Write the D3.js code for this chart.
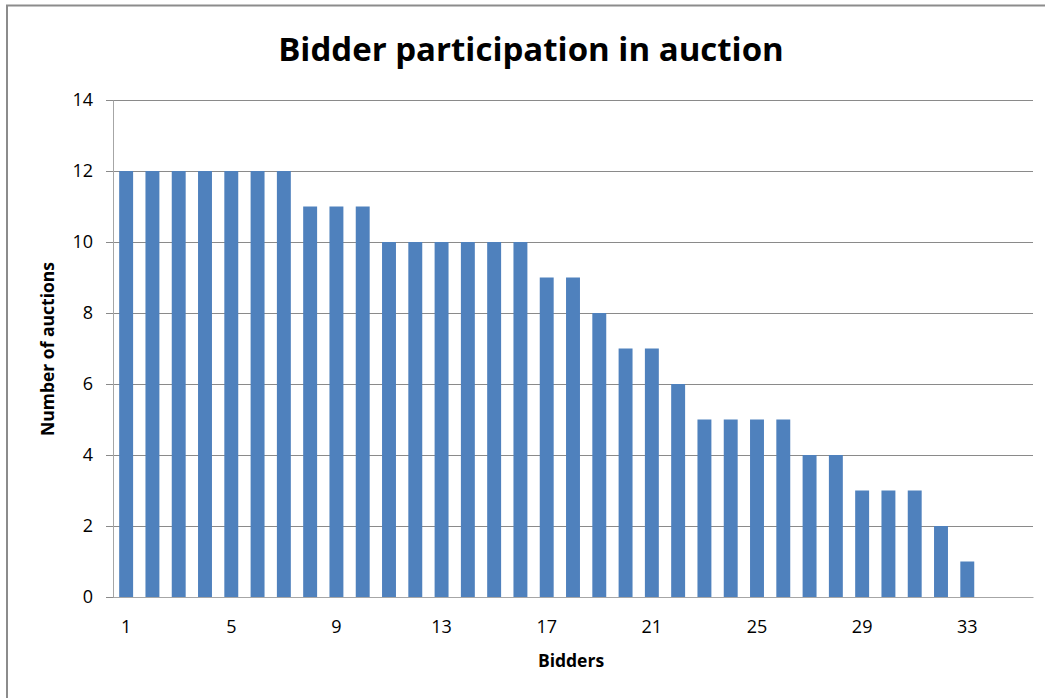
<!DOCTYPE html>
<html>
<head>
<meta charset="utf-8">
<script src="https://cdn.jsdelivr.net/npm/d3@7"></script>
<style>
  body { margin: 0; background: #fff; }
  text { font-family: "Open Sans", "Liberation Sans", sans-serif; fill: #000; }
</style>
</head>
<body>
<div id="chart"></div>
<script>
// bidders 1..35 on the axis, only 33 have bars
var bidders = d3.range(1, 36);
var auctions = [12, 12, 12, 12, 12, 12, 12, 11, 11, 11, 10, 10, 10, 10, 10, 10,
                9, 9, 8, 7, 7, 6, 5, 5, 5, 5, 4, 4, 3, 3, 3, 2, 1];
var yTicks = [0, 2, 4, 6, 8, 10, 12, 14];
var xTickLabels = [1, 5, 9, 13, 17, 21, 25, 29, 33];

var W = 1045, H = 698,
    margin = {top: 100, right: 12, bottom: 101, left: 113},
    width = W - margin.left - margin.right,
    height = H - margin.top - margin.bottom;

var svg = d3.select("#chart").append("svg")
    .attr("width", W).attr("height", H);

// outer chart frame (bottom/right cut off in the screenshot)
svg.append("rect")
    .attr("x", 7).attr("y", 5.5)
    .attr("width", 1060).attr("height", 720)
    .attr("fill", "none").attr("stroke", "#8c8c8c").attr("stroke-width", 2);

var g = svg.append("g")
    .attr("transform", "translate(" + margin.left + "," + margin.top + ")");

var xScale = d3.scaleBand().domain(bidders).range([0, width]).paddingInner(0.47).paddingOuter(0.235);
var yScale = d3.scaleLinear().domain([0, 14]).range([height, 0]);

// gridlines with ticks out to the left
g.append("g")
    .attr("class", "grid")
    .call(d3.axisLeft(yScale).tickValues(yTicks).tickSize(-width).tickFormat(""))
    .call(function(s) {
      s.select(".domain").remove();
      s.selectAll("line").attr("stroke", "#8a8a8a").attr("x1", -7);
    });

g.selectAll(".bar")
    .data(auctions)
  .enter().append("rect")
    .attr("class", "bar")
    .attr("x", function(d, i) { return xScale(bidders[i]); })
    .attr("y", function(d) { return yScale(d); })
    .attr("width", xScale.bandwidth())
    .attr("height", function(d) { return height - yScale(d); })
    .attr("fill", "#4f81bd");

// y axis
var yAxis = g.append("g")
    .call(d3.axisLeft(yScale).tickValues(yTicks).tickSize(0).tickPadding(20));
yAxis.select(".domain").attr("stroke", "#a6a6a6");
yAxis.selectAll("text").style("font-size", "18px");

// x axis
var xAxis = g.append("g")
    .attr("transform", "translate(0," + height + ")")
    .call(d3.axisBottom(xScale).tickValues(xTickLabels).tickSize(0).tickPadding(23));
xAxis.select(".domain").attr("stroke", "#a6a6a6");
xAxis.selectAll("text").style("font-size", "18px");

svg.append("text")
    .attr("x", 531).attr("y", 61)
    .attr("text-anchor", "middle")
    .style("font-size", "33px").style("font-weight", "bold")
    .text("Bidder participation in auction");

svg.append("text")
    .attr("x", 571).attr("y", 667)
    .attr("text-anchor", "middle")
    .style("font-size", "17.5px").style("font-weight", "bold")
    .text("Bidders");

svg.append("text")
    .attr("transform", "translate(54,349) rotate(-90)")
    .attr("text-anchor", "middle")
    .style("font-size", "17.5px").style("font-weight", "bold")
    .text("Number of auctions");
</script>
</body>
</html>
